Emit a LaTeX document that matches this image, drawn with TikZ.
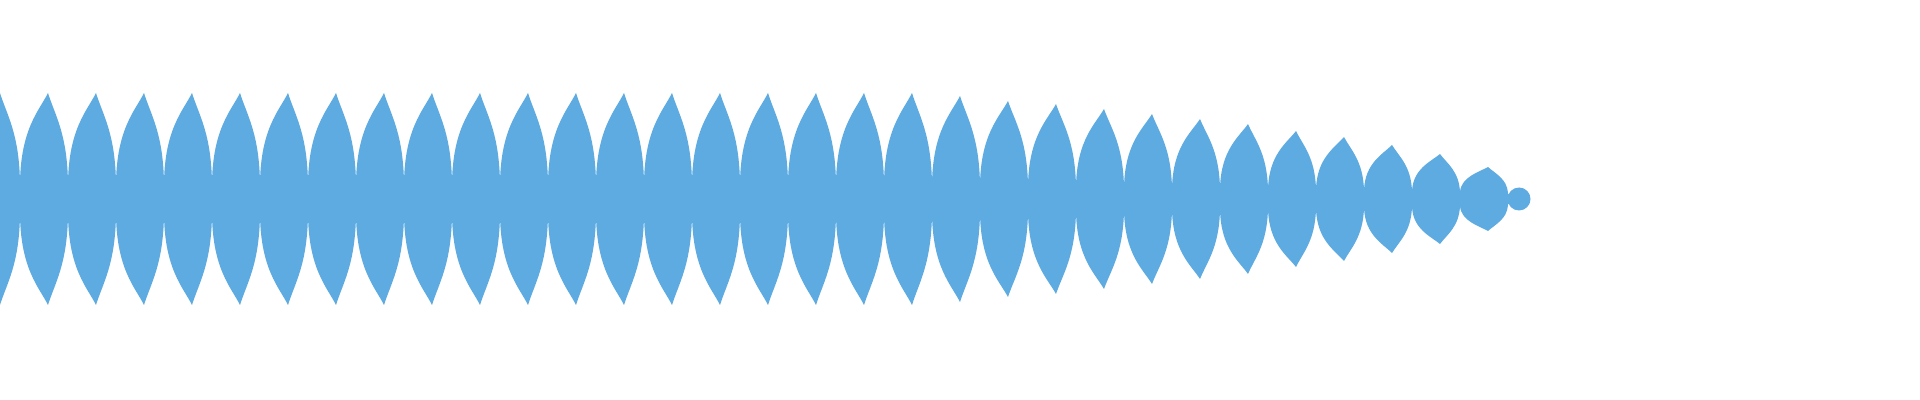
\documentclass[tikz,border=0pt]{standalone}
\definecolor{wave}{HTML}{5DABE0}
\begin{document}
\begin{tikzpicture}[x=0.5pt,y=-0.5pt]
\useasboundingbox (0,0) rectangle (1920,400);
\clip (0,0) rectangle (1920,400);
\foreach \k/\h/\wa/\wb in {-1/106/17/17,0/106/17/17,1/106/17/17,2/106/17/17,3/106/17/17,4/106/17/17,5/106/17/17,6/106/17/17,7/106/17/17,8/106/17/17,9/106/17/17,10/106/17/17,11/106/17/17,12/106/17/17,13/106/17/17,14/106/17/17,15/106/17/17,16/106/17/17,17/106/17/17,18/106/17/16,19/103/16/15,20/98/15/14,21/95/14/13,22/90/13/12,23/85/12/11,24/80/11/11,25/75/11/10,26/68/10/10,27/62/10/9,28/54/9/8,29/45/8/7,30/32/7/6}{
  \pgfmathsetmacro{\xa}{20+48*\k}
  \pgfmathsetmacro{\xt}{\xa+28}
  \pgfmathsetmacro{\xb}{\xa+48}
  \pgfmathsetmacro{\ta}{199-\wa}
  \pgfmathsetmacro{\tb}{199-\wb}
  \pgfmathsetmacro{\th}{199-\h}
  \pgfmathsetmacro{\ba}{199+\wa}
  \pgfmathsetmacro{\bb}{199+\wb}
  \pgfmathsetmacro{\bh}{199+\h}
  \pgfmathsetmacro{\ca}{199-\wa-0.6*(\h-\wa)}
  \pgfmathsetmacro{\cb}{199-\h+0.2*(\h-\wa)}
  \pgfmathsetmacro{\cc}{199-\h+0.25*(\h-\wb)}
  \pgfmathsetmacro{\cd}{199-\wb-0.55*(\h-\wb)}
  \pgfmathsetmacro{\da}{199+\wa+0.6*(\h-\wa)}
  \pgfmathsetmacro{\db}{199+\h-0.2*(\h-\wa)}
  \pgfmathsetmacro{\dc}{199+\h-0.25*(\h-\wb)}
  \pgfmathsetmacro{\dd}{199+\wb+0.55*(\h-\wb)}
  \fill[wave] (\xa,\ta) .. controls (\xa+1,\ca) and (\xa+19,\cb) .. (\xt,\th)
     .. controls (\xa+35,\cc) and (\xb-1,\cd) .. (\xb,\tb)
     -- (\xb,\bb) .. controls (\xb-1,\dd) and (\xa+35,\dc) .. (\xt,\bh)
     .. controls (\xa+19,\db) and (\xa+1,\da) .. (\xa,\ba) -- cycle;
}
\fill[wave] (1519,199) circle (11.5);
\fill[wave] (1505,194) rectangle (1512,204);
\end{tikzpicture}
\end{document}
